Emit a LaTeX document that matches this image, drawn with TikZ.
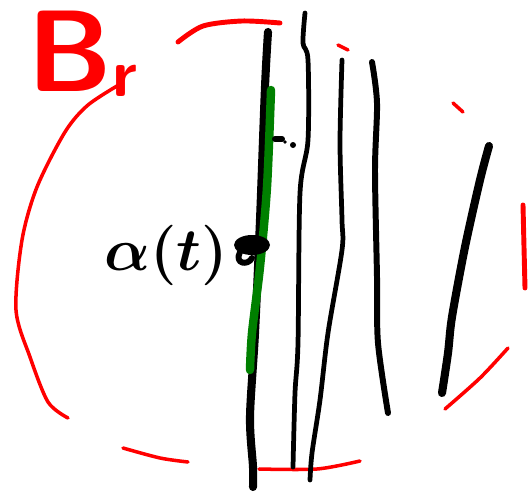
\documentclass[tikz,border=0pt]{standalone}
\usepackage{amsmath, amssymb}
\usetikzlibrary{positioning}
\tikzset{
  ballarc/.style={draw=red, line width=2pt, line cap=round, line join=round},
  ballarcbold/.style={draw=red, line width=2.8pt, line cap=round, line join=round},
  leafthin/.style={draw=black, line width=2.7pt, line cap=round, line join=round},
  leafmid/.style={draw=black, line width=3.4pt, line cap=round, line join=round},
  leafthick/.style={draw=black, line width=4.6pt, line cap=round, line join=round},
  curvegreen/.style={draw=green!50!black, line width=4.8pt, line cap=round, line join=round},
  ballname/.style={text=red, font=\sffamily\bfseries\fontsize{66}{66}\selectfont, inner sep=0pt},
  curvename/.style={text=black, font=\Huge\boldmath, inner sep=0pt}
}
\begin{document}
\begin{tikzpicture}[x=0.02cm, y=-0.02cm]
  \useasboundingbox (0,0) rectangle (531,494);

  % the ball B_r, drawn in pieces
  \draw[ballarcbold] plot[smooth] coordinates {(178,42) (203,26) (242,21) (280,23)};
  \draw[ballarc] (338,45) -- (348,50);
  \draw[ballarc] plot[smooth] coordinates {(122,83) (88,105) (65,132) (37,187) (22,240) (16,310) (30,357) (48,402) (68,418)};
  \draw[ballarc] (453,103) -- (463,112);
  \draw[ballarcbold] plot[smooth] coordinates {(523,205) (524,247) (525,288)};
  \draw[ballarc] plot[smooth] coordinates {(508,348) (480,378) (445,409)};
  \draw[ballarc] plot[smooth] coordinates {(123,448) (160,458) (188,462)};
  \draw[ballarc] plot[smooth] coordinates {(259,469) (317,469) (360,461)};
  \node[ballname] (br) at (82,54) {B\raisebox{-1mm}{\fontsize{38}{38}\selectfont r}};

  % leaves
  \draw[leafthick] plot[smooth] coordinates {(268,32) (265,87) (260,220) (255,333) (250,417) (253,467) (253,487)};
  \draw[leafthin] plot[smooth] coordinates {(305,13) (303,43) (308,60) (308,140) (300,193) (298,343) (295,393) (293,467)};
  \draw[leafthin] plot[smooth] coordinates {(342,60) (340,143) (342,220) (342,250) (328,333) (320,400) (312,453) (310,480)};
  \draw[leafmid] plot[smooth] coordinates {(372,62) (377,103) (375,170) (377,277) (378,343) (388,413)};
  \draw[leafthick] plot[smooth] coordinates {(489,146) (480,180) (465,247) (452,317) (448,353) (442,393)};

  % the curve alpha(t)
  \draw[curvegreen] plot[smooth] coordinates {(271,90) (267,187) (260,267) (252,333) (250,370)};
  \draw[leafmid] (275,139) -- (282,139);
  \fill (285,142) circle (1.8);
  \fill (293,145) circle (3);
  \node[curvename] (alpha) at (166,255) {\scalebox{1.38}{$\alpha(t)$}};
  \fill (252,245) ellipse (18 and 10);
  \draw[leafmid] (240,252) .. controls (234,264) and (248,266) .. (252,258);
\end{tikzpicture}
\end{document}
